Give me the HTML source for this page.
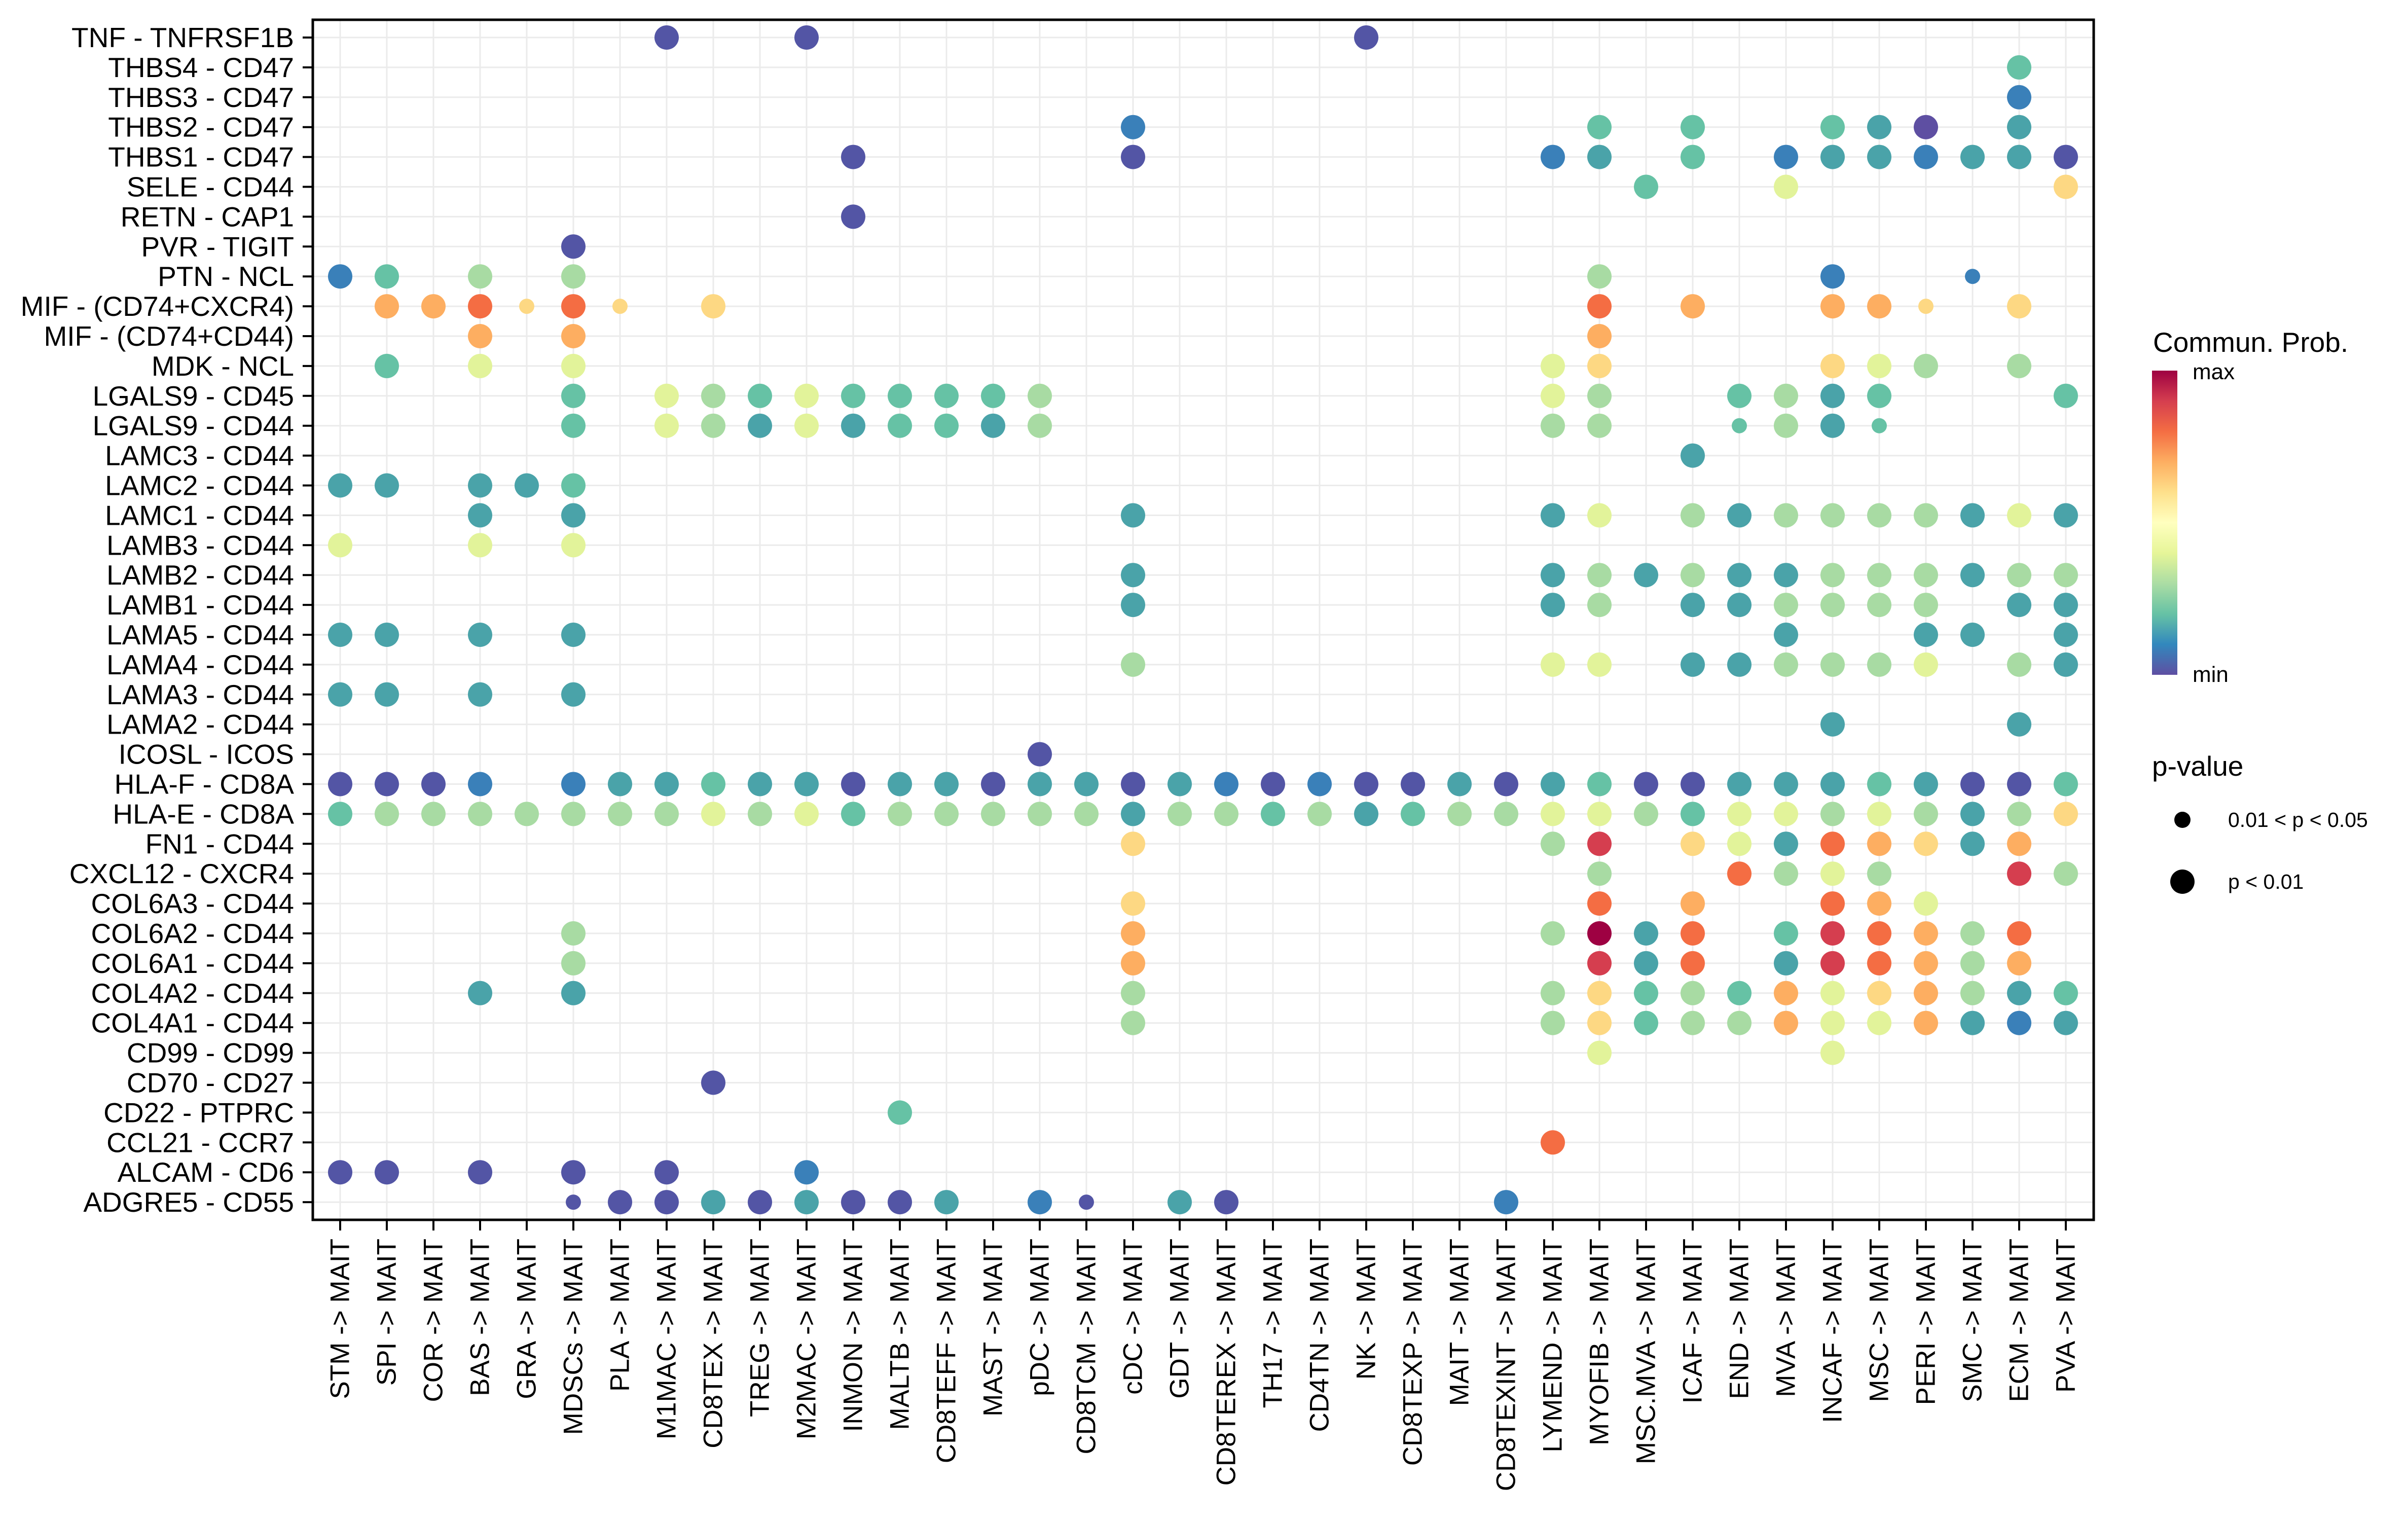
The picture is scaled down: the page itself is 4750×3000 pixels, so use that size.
<!DOCTYPE html>
<html><head><meta charset="utf-8">
<style>
html,body{margin:0;padding:0;background:#fff;}
svg{display:block;font-family:"Liberation Sans",Arial,sans-serif;}
</style></head>
<body>
<svg id="s" width="4750" height="3000" viewBox="0 0 4750 3000" xmlns="http://www.w3.org/2000/svg">
<defs>
<linearGradient id="cb" x1="0" y1="1" x2="0" y2="0">
<stop offset="0" stop-color="#5E4FA2"/><stop offset="0.1" stop-color="#3288BD"/><stop offset="0.2" stop-color="#66C2A5"/><stop offset="0.3" stop-color="#ABDDA4"/><stop offset="0.4" stop-color="#E6F598"/><stop offset="0.5" stop-color="#FFFFBF"/><stop offset="0.6" stop-color="#FEE08B"/><stop offset="0.7" stop-color="#FDAE61"/><stop offset="0.8" stop-color="#F46D43"/><stop offset="0.9" stop-color="#D53E4F"/><stop offset="1" stop-color="#9E0142"/>
</linearGradient>
</defs>
<rect x="0" y="0" width="4750" height="3000" fill="#fff"/>
<g id="grid"></g>
<g id="dots"></g>
<rect x="617" y="39" width="3513" height="2367" fill="none" stroke="#000" stroke-width="5"/>
<g id="ticks"></g>
<g id="yl" font-size="55" text-anchor="end" dominant-baseline="central" fill="#000">
<text x="580" y="74">TNF - TNFRSF1B</text>
<text x="580" y="132.9">THBS4 - CD47</text>
<text x="580" y="191.8">THBS3 - CD47</text>
<text x="580" y="250.7">THBS2 - CD47</text>
<text x="580" y="309.6">THBS1 - CD47</text>
<text x="580" y="368.5">SELE - CD44</text>
<text x="580" y="427.4">RETN - CAP1</text>
<text x="580" y="486.3">PVR - TIGIT</text>
<text x="580" y="545.2">PTN - NCL</text>
<text x="580" y="604.1">MIF - (CD74+CXCR4)</text>
<text x="580" y="663">MIF - (CD74+CD44)</text>
<text x="580" y="721.9">MDK - NCL</text>
<text x="580" y="780.8">LGALS9 - CD45</text>
<text x="580" y="839.7">LGALS9 - CD44</text>
<text x="580" y="898.6">LAMC3 - CD44</text>
<text x="580" y="957.5">LAMC2 - CD44</text>
<text x="580" y="1016.4">LAMC1 - CD44</text>
<text x="580" y="1075.3">LAMB3 - CD44</text>
<text x="580" y="1134.2">LAMB2 - CD44</text>
<text x="580" y="1193.1">LAMB1 - CD44</text>
<text x="580" y="1252">LAMA5 - CD44</text>
<text x="580" y="1310.9">LAMA4 - CD44</text>
<text x="580" y="1369.8">LAMA3 - CD44</text>
<text x="580" y="1428.7">LAMA2 - CD44</text>
<text x="580" y="1487.6">ICOSL - ICOS</text>
<text x="580" y="1546.5">HLA-F - CD8A</text>
<text x="580" y="1605.4">HLA-E - CD8A</text>
<text x="580" y="1664.3">FN1 - CD44</text>
<text x="580" y="1723.2">CXCL12 - CXCR4</text>
<text x="580" y="1782.1">COL6A3 - CD44</text>
<text x="580" y="1841">COL6A2 - CD44</text>
<text x="580" y="1899.9">COL6A1 - CD44</text>
<text x="580" y="1958.8">COL4A2 - CD44</text>
<text x="580" y="2017.7">COL4A1 - CD44</text>
<text x="580" y="2076.6">CD99 - CD99</text>
<text x="580" y="2135.5">CD70 - CD27</text>
<text x="580" y="2194.4">CD22 - PTPRC</text>
<text x="580" y="2253.3">CCL21 - CCR7</text>
<text x="580" y="2312.2">ALCAM - CD6</text>
<text x="580" y="2371.1">ADGRE5 - CD55</text>
</g>
<g id="xl" font-size="53" text-anchor="end" dominant-baseline="central" fill="#000">
<text transform="translate(671,2443) rotate(-90)">STM -&gt; MAIT</text>
<text transform="translate(763,2443) rotate(-90)">SPI -&gt; MAIT</text>
<text transform="translate(855,2443) rotate(-90)">COR -&gt; MAIT</text>
<text transform="translate(947,2443) rotate(-90)">BAS -&gt; MAIT</text>
<text transform="translate(1039,2443) rotate(-90)">GRA -&gt; MAIT</text>
<text transform="translate(1131,2443) rotate(-90)">MDSCs -&gt; MAIT</text>
<text transform="translate(1223,2443) rotate(-90)">PLA -&gt; MAIT</text>
<text transform="translate(1315,2443) rotate(-90)">M1MAC -&gt; MAIT</text>
<text transform="translate(1407,2443) rotate(-90)">CD8TEX -&gt; MAIT</text>
<text transform="translate(1499,2443) rotate(-90)">TREG -&gt; MAIT</text>
<text transform="translate(1591,2443) rotate(-90)">M2MAC -&gt; MAIT</text>
<text transform="translate(1683,2443) rotate(-90)">INMON -&gt; MAIT</text>
<text transform="translate(1775,2443) rotate(-90)">MALTB -&gt; MAIT</text>
<text transform="translate(1867,2443) rotate(-90)">CD8TEFF -&gt; MAIT</text>
<text transform="translate(1959,2443) rotate(-90)">MAST -&gt; MAIT</text>
<text transform="translate(2051,2443) rotate(-90)">pDC -&gt; MAIT</text>
<text transform="translate(2143,2443) rotate(-90)">CD8TCM -&gt; MAIT</text>
<text transform="translate(2235,2443) rotate(-90)">cDC -&gt; MAIT</text>
<text transform="translate(2327,2443) rotate(-90)">GDT -&gt; MAIT</text>
<text transform="translate(2419,2443) rotate(-90)">CD8TEREX -&gt; MAIT</text>
<text transform="translate(2511,2443) rotate(-90)">TH17 -&gt; MAIT</text>
<text transform="translate(2603,2443) rotate(-90)">CD4TN -&gt; MAIT</text>
<text transform="translate(2695,2443) rotate(-90)">NK -&gt; MAIT</text>
<text transform="translate(2787,2443) rotate(-90)">CD8TEXP -&gt; MAIT</text>
<text transform="translate(2879,2443) rotate(-90)">MAIT -&gt; MAIT</text>
<text transform="translate(2971,2443) rotate(-90)">CD8TEXINT -&gt; MAIT</text>
<text transform="translate(3063,2443) rotate(-90)">LYMEND -&gt; MAIT</text>
<text transform="translate(3155,2443) rotate(-90)">MYOFIB -&gt; MAIT</text>
<text transform="translate(3247,2443) rotate(-90)">MSC.MVA -&gt; MAIT</text>
<text transform="translate(3339,2443) rotate(-90)">ICAF -&gt; MAIT</text>
<text transform="translate(3431,2443) rotate(-90)">END -&gt; MAIT</text>
<text transform="translate(3523,2443) rotate(-90)">MVA -&gt; MAIT</text>
<text transform="translate(3615,2443) rotate(-90)">INCAF -&gt; MAIT</text>
<text transform="translate(3707,2443) rotate(-90)">MSC -&gt; MAIT</text>
<text transform="translate(3799,2443) rotate(-90)">PERI -&gt; MAIT</text>
<text transform="translate(3891,2443) rotate(-90)">SMC -&gt; MAIT</text>
<text transform="translate(3983,2443) rotate(-90)">ECM -&gt; MAIT</text>
<text transform="translate(4075,2443) rotate(-90)">PVA -&gt; MAIT</text>
</g>
<!-- legend -->
<text x="4247" y="694" font-size="55" fill="#000">Commun. Prob.</text>
<rect x="4245" y="731" width="50" height="600" fill="url(#cb)"/>
<text x="4325" y="748" font-size="44" fill="#000">max</text>
<text x="4325" y="1345" font-size="44" fill="#000">min</text>
<text x="4245" y="1530" font-size="55" fill="#000">p-value</text>
<circle cx="4305" cy="1617" r="16" fill="#000"/>
<circle cx="4305" cy="1739" r="24" fill="#000"/>
<text x="4395" y="1617" font-size="41" dominant-baseline="central" fill="#000">0.01 &lt; p &lt; 0.05</text>
<text x="4395" y="1739" font-size="41" dominant-baseline="central" fill="#000">p &lt; 0.01</text>
</svg>
<script>
(function(){
var NS="http://www.w3.org/2000/svg";
var X0=671,DX=92,Y0=74,DY=58.9;
function el(n,a,p){var e=document.createElementNS(NS,n);for(var k in a)e.setAttribute(k,a[k]);p.appendChild(e);}
var g=document.getElementById('grid'),t=document.getElementById('ticks'),d=document.getElementById('dots');
for(var i=0;i<38;i++){var x=X0+i*DX;el('line',{x1:x,x2:x,y1:39,y2:2406,stroke:'#ebebeb','stroke-width':3},g);el('line',{x1:x,x2:x,y1:2406,y2:2427,stroke:'#000','stroke-width':4},t);}
for(var r=0;r<40;r++){var y=Y0+r*DY;el('line',{x1:617,x2:4130,y1:y,y2:y,stroke:'#ebebeb','stroke-width':3},g);el('line',{x1:597,x2:617,y1:y,y2:y,stroke:'#000','stroke-width':4},t);}
var C={P:'#5355a5',Q:'#5e4fa2',B:'#3a80b9',T:'#4aa3a9',G:'#66c2a5',L:'#a8dba3',Y:'#e2f39a',y:'#fdd883',O:'#fdae61',R:'#f46d43',D:'#d53e4f',M:'#9e0142'};
var rows=[
"7P 10P 22P",
"36G",
"36B",
"17B 27G 29G 32G 33T 34Q 36T",
"11P 17P 26B 27T 29G 31B 32T 33T 34B 35T 36T 37P",
"28G 31Y 37y",
"11P",
"5P",
"0B 1G 3L 5L 27L 32B 35Bs",
"1O 2O 3R 4ys 5R 6ys 8y 27R 29O 32O 33O 34ys 36y",
"3O 5O 27O",
"1G 3Y 5Y 26Y 27y 32y 33Y 34L 36L",
"5G 7Y 8L 9G 10Y 11G 12G 13G 14G 15L 26Y 27L 30G 31L 32T 33G 37G",
"5G 7Y 8L 9T 10Y 11T 12G 13G 14T 15L 26L 27L 30Gs 31L 32T 33Gs",
"29T",
"0T 1T 3T 4T 5G",
"3T 5T 17T 26T 27Y 29L 30T 31L 32L 33L 34L 35T 36Y 37T",
"0Y 3Y 5Y",
"17T 26T 27L 28T 29L 30T 31T 32L 33L 34L 35T 36L 37L",
"17T 26T 27L 29T 30T 31L 32L 33L 34L 36T 37T",
"0T 1T 3T 5T 31T 34T 35T 37T",
"17L 26Y 27Y 29T 30T 31L 32L 33L 34Y 36L 37T",
"0T 1T 3T 5T",
"32T 36T",
"15P",
"0P 1P 2P 3B 5B 6T 7T 8G 9T 10T 11P 12T 13T 14P 15T 16T 17P 18T 19B 20P 21B 22P 23P 24T 25P 26T 27G 28P 29P 30T 31T 32T 33G 34T 35P 36P 37G",
"0G 1L 2L 3L 4L 5L 6L 7L 8Y 9L 10Y 11G 12L 13L 14L 15L 16L 17T 18L 19L 20G 21L 22T 23G 24L 25L 26Y 27Y 28L 29G 30Y 31Y 32L 33Y 34L 35T 36L 37y",
"17y 26L 27D 29y 30Y 31T 32R 33O 34y 35T 36O",
"27L 30R 31L 32Y 33L 36D 37L",
"17y 27R 29O 32R 33O 34Y",
"5L 17O 26L 27M 28T 29R 31G 32D 33R 34O 35L 36R",
"5L 17O 27D 28T 29R 31T 32D 33R 34O 35L 36O",
"3T 5T 17L 26L 27y 28G 29L 30G 31O 32Y 33y 34O 35L 36T 37G",
"17L 26L 27y 28G 29L 30L 31O 32Y 33Y 34O 35T 36B 37T",
"27Y 32Y",
"8P",
"12G",
"26R",
"0P 1P 3P 5P 7P 10B",
"5Ps 6P 7P 8T 9P 10T 11P 12P 13T 15B 16Ps 18T 19P 25B"
];
for(var r=0;r<rows.length;r++){var it=rows[r].split(' ');for(var k=0;k<it.length;k++){var s=it[k];var m=s.match(/^(\d+)([A-Za-z])(s?)$/);if(!m)continue;
el('circle',{cx:X0+(+m[1])*DX,cy:Y0+r*DY,r:m[3]?15:24,fill:C[m[2]]},d);}}
})();
</script>
</body></html>
